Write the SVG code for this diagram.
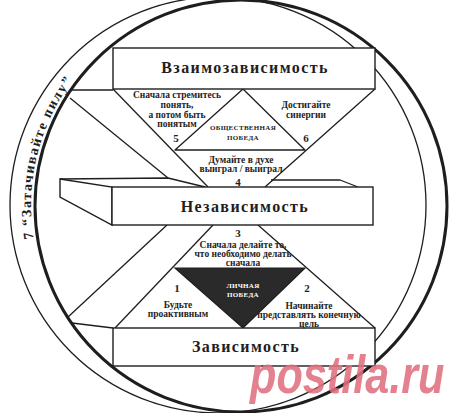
<svg xmlns="http://www.w3.org/2000/svg" width="460" height="413" viewBox="0 0 460 413">
<style>
.ln{fill:none;stroke:#1e1e1e;stroke-width:1.3;stroke-linejoin:round}
.box{fill:#fff;stroke:#1e1e1e;stroke-width:1.4}
.big{font-family:"Liberation Serif",serif;font-weight:bold;font-size:16px;letter-spacing:1.4px;fill:#1e1e1e;text-anchor:middle}
.sm{font-family:"Liberation Serif",serif;font-weight:bold;font-size:9.5px;fill:#1e1e1e;text-anchor:middle}
.cap{font-family:"Liberation Serif",serif;font-weight:bold;font-size:7px;letter-spacing:0.3px;fill:#1e1e1e;text-anchor:middle}
.num{font-family:"Liberation Serif",serif;font-weight:bold;font-size:11px;fill:#1e1e1e;text-anchor:middle}
</style>
<defs>
<path id="arc7" d="M 33.6 238.8 A 210 210 0 0 1 106 45"/>
</defs>
<rect width="460" height="413" fill="#fff"/>
<g id="circles">
<circle cx="241" cy="206" r="206" fill="none" stroke="#1e1e1e" stroke-width="3"/>
<circle cx="218" cy="205" r="208" fill="none" stroke="#1e1e1e" stroke-width="1.3"/>
</g>
<g id="connectors">
<line class="ln" x1="70" y1="90" x2="113" y2="90"/>
<line class="ln" x1="113" y1="89" x2="208" y2="187"/>
<line class="ln" x1="375" y1="89" x2="265" y2="187"/>
<line class="ln" x1="70" y1="98" x2="168" y2="178"/>
<polyline class="ln" points="60,179 168,178 205,187"/>
<polyline class="ln" points="271,180 340,180 358,187"/>
<line class="ln" x1="115" y1="328" x2="213" y2="225"/>
<line class="ln" x1="375" y1="328" x2="258" y2="225"/>
<line class="ln" x1="68" y1="317" x2="167" y2="225"/>
<line class="ln" x1="72" y1="323" x2="113" y2="328"/>
</g>
<g id="public-victory">
<polygon class="ln" points="243,89 175,150 305,150"/>
<text class="cap" x="243" y="130">ОБЩЕСТВЕННАЯ</text>
<text class="cap" x="243" y="140">ПОБЕДА</text>
</g>
<g id="private-victory">
<polygon points="175,268 305,268 243,328" fill="#2a2a2a" stroke="#1e1e1e" stroke-width="1.2"/>
<text class="cap" x="243" y="288" style="fill:#fff">ЛИЧНАЯ</text>
<text class="cap" x="243" y="297" style="fill:#fff">ПОБЕДА</text>
</g>
<g id="interdependence">
<rect class="box" x="113" y="48" width="262" height="41"/>
<text class="big" x="245" y="73">Взаимозависимость</text>
</g>
<g id="independence">
<polygon class="box" points="60,179 112,187 112,225 60,197"/>
<rect class="box" x="112" y="187" width="261" height="38"/>
<text class="big" x="245" y="212">Независимость</text>
</g>
<g id="dependence">
<rect class="box" x="113" y="328" width="262" height="38"/>
<text class="big" x="246" y="352">Зависимость</text>
</g>
<g id="habit5">
<text class="sm" x="177" y="98">Сначала стремитесь</text>
<text class="sm" x="177" y="108">понять,</text>
<text class="sm" x="177" y="118">а потом быть</text>
<text class="sm" x="177" y="127">понятым</text>
<text class="num" x="176" y="142">5</text>
</g>
<g id="habit6">
<text class="sm" x="306" y="108">Достигайте</text>
<text class="sm" x="306" y="118">синергии</text>
<text class="num" x="306" y="142">6</text>
</g>
<g id="habit4">
<text class="sm" x="241" y="163">Думайте в духе</text>
<text class="sm" x="241" y="172">выиграл / выиграл</text>
<text class="num" x="238" y="186">4</text>
</g>
<g id="habit3">
<text class="num" x="238" y="237">3</text>
<text class="sm" x="243" y="248">Сначала делайте то,</text>
<text class="sm" x="243" y="257">что необходимо делать</text>
<text class="sm" x="243" y="266">сначала</text>
</g>
<g id="habit1">
<text class="num" x="177" y="292">1</text>
<text class="sm" x="178" y="308">Будьте</text>
<text class="sm" x="178" y="317">проактивным</text>
</g>
<g id="habit2">
<text class="num" x="307" y="292">2</text>
<text class="sm" x="309" y="309">Начинайте</text>
<text class="sm" x="309" y="318">представлять конечную</text>
<text class="sm" x="309" y="327">цель</text>
</g>
<g id="habit7">
<text font-family="Liberation Serif, serif" font-weight="bold" font-size="14" letter-spacing="1.5" fill="#1e1e1e"><textPath href="#arc7">7 “Затачивайте пилу”</textPath></text>
</g>
<text transform="translate(250,393) scale(0.8,1)" font-family="Liberation Sans, sans-serif" font-weight="bold" font-style="italic" font-size="54" fill="#e0707f" fill-opacity="0.88">postila.ru</text>
</svg>
